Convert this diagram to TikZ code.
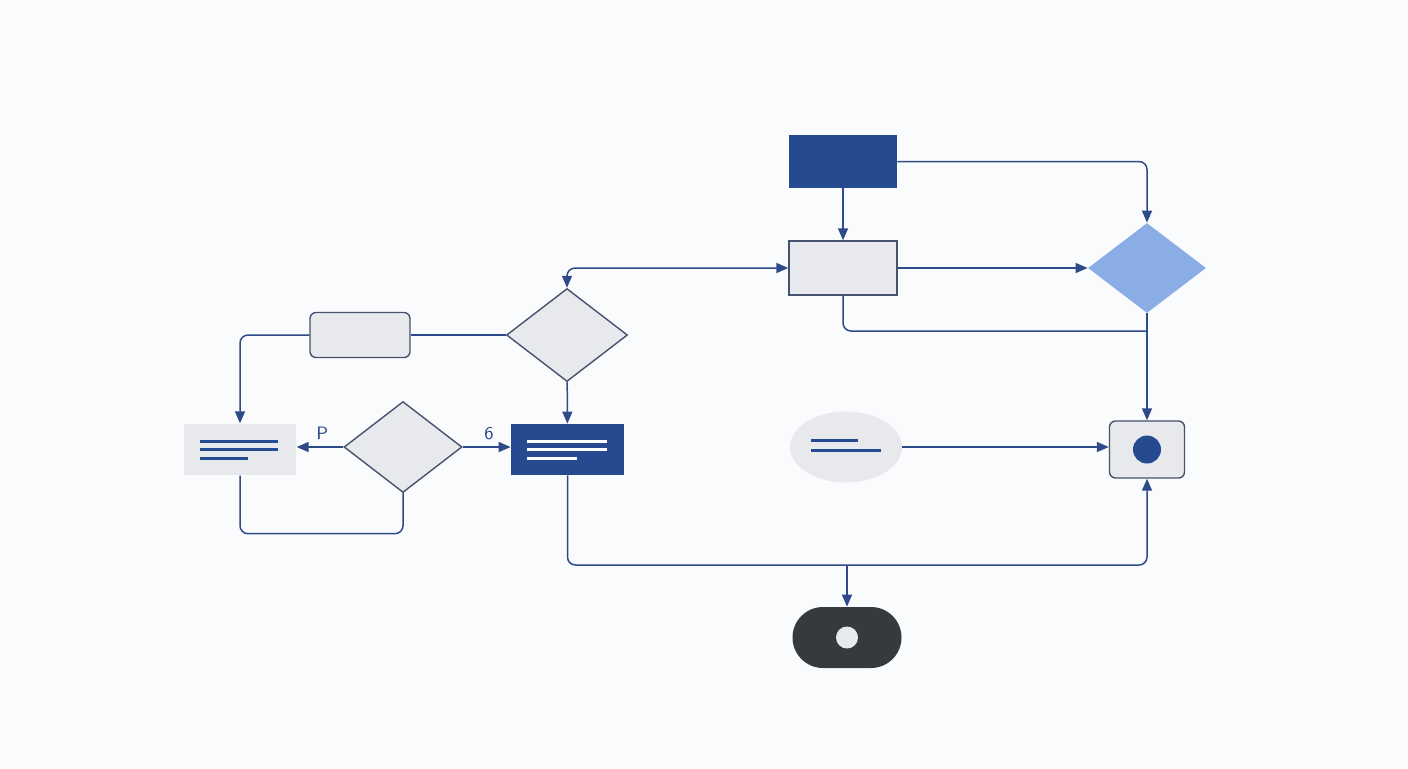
\documentclass[tikz,border=0pt]{standalone}
\usepackage{tikz}
\usetikzlibrary{arrows.meta,shapes.geometric,shapes.misc}
\definecolor{navy}{HTML}{254A8F}
\definecolor{linkblue}{HTML}{2E4A88}
\definecolor{skyblue}{HTML}{8AADE6}
\definecolor{paper}{HTML}{E8E9EC}
\definecolor{edgegray}{HTML}{46536E}
\definecolor{charcoal}{HTML}{353A3D}
\definecolor{bgwhite}{HTML}{FAFBFC}

\begin{document}
\begin{tikzpicture}[x=0.5pt,y=-0.5pt,font=\sffamily\small,
  box/.style={draw=edgegray,fill=paper,line width=0.7pt,inner sep=0pt},
  dark/.style={draw=none,fill=navy,inner sep=0pt},
  dia/.style={diamond,draw=edgegray,fill=paper,line width=0.7pt,inner sep=0pt},
  bar/.style={line width=1.5pt},
  flow/.style={-{Triangle[length=6pt,width=5pt]},linkblue,line width=0.75pt,rounded corners=4pt},
  link/.style={linkblue,line width=0.75pt,rounded corners=4pt}]
\fill[bgwhite] (0,0) rectangle (1408,768);
% upper right
\node[dark,minimum width=54pt,minimum height=26.5pt] (start) at (843,161.5) {};
\node[box,minimum width=54pt,minimum height=27pt] (proc) at (843,268) {};
\node[diamond,fill=skyblue,draw=none,inner sep=0pt,minimum width=59pt,minimum height=45pt] (check) at (1147,268) {};
\node[box,rounded corners=3pt,minimum width=37.5pt,minimum height=28.5pt] (term) at (1147,449.5) {};
\fill[navy] (term.center) circle (7pt);
% left part
\node[box,rounded corners=3pt,minimum width=50pt,minimum height=22.5pt] (task) at (360,335) {};
\node[dia,minimum width=60.5pt,minimum height=46.5pt] (ask) at (567,335) {};
\node[box,draw=none,minimum width=56pt,minimum height=25.5pt] (note) at (240,449.5) {};
\node[dia,minimum width=59pt,minimum height=45.5pt] (pick) at (403,447) {};
\node[dark,minimum width=56.5pt,minimum height=25.5pt] (doc) at (567.5,449.5) {};
\node[ellipse,fill=paper,inner sep=0pt,minimum width=56pt,minimum height=35.5pt] (memo) at (846,447) {};
\node[rounded rectangle,fill=charcoal,inner sep=0pt,minimum width=54.5pt,minimum height=30.5pt] (stop) at (847,637.5) {};
\fill[paper] (stop.center) circle (5.5pt);
% text bars
\draw[bar,navy] (200,441) -- (278,441) (200,449.5) -- (278,449.5) (200,458) -- (248,458);
\draw[bar,white] (527,441) -- (607,441) (527,449.5) -- (607,449.5) (527,458) -- (577,458);
\draw[bar,navy] (811,440) -- (858,440) (811,450) -- (881,450);
% connectors
\coordinate (join) at (1147,331);
\coordinate (base) at (1147,565);
\coordinate (fork) at (847,565);
\draw[flow] (start) -- (proc);
\draw[flow] (start.east) -| (check.north);
\draw[flow] (proc) -- (check);
\draw[link] (proc.south) |- (join);
\draw[flow] (check.south) -- (term.north);
\draw[flow,{Triangle[length=6pt,width=5pt]}-{Triangle[length=6pt,width=5pt]}] (ask.north) |- (proc.west);
\draw[link] (task.east) -- (ask.west);
\draw[flow] (task.west) -| (note.north);
\draw[flow] (ask) -- (doc);
\draw[flow] (pick.west) -- node[above,pos=0.45,text=linkblue] {P} (pick.west -| note.east);
\draw[flow] (pick.east) -- node[above,pos=0.55,text=linkblue] {6} (pick.east -| doc.west);
\draw[link] (note.south) -- ++(0,58) -| (pick.south);
\draw[flow] (doc.south) |- (base) -- (term.south);
\draw[flow] (fork) -- (stop.north);
\draw[flow] (memo.east) -- (memo.east -| term.west);
\end{tikzpicture}
\end{document}
